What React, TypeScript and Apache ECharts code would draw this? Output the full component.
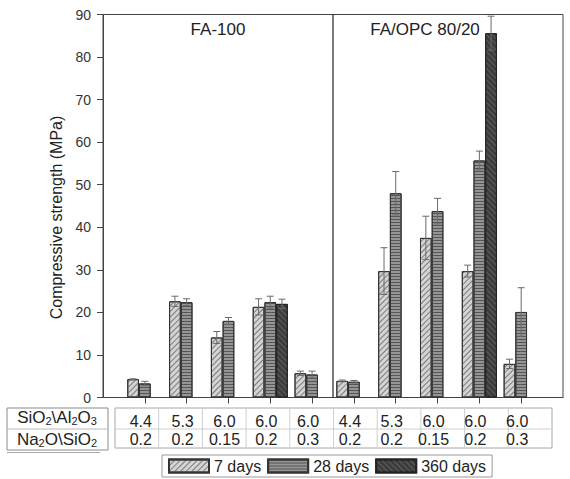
import React, { useEffect, useRef } from "react";
import * as echarts from "echarts";

const sio2Ratio = ["4.4", "5.3", "6.0", "6.0", "6.0", "4.4", "5.3", "6.0", "6.0", "6.0"];
const na2oRatio = ["0.2", "0.2", "0.15", "0.2", "0.3", "0.2", "0.2", "0.15", "0.2", "0.3"];
const groupTitles = ["FA-100", "FA/OPC 80/20"];
const seriesNames = ["7 days", "28 days", "360 days"];
const days7 = [4.3, 22.6, 14.1, 21.3, 5.7, 3.9, 29.7, 37.5, 29.7, 7.9];
const days7Err = [0.1, 1.2, 1.4, 1.9, 0.5, 0.2, 5.5, 5.1, 1.4, 1.1];
const days28 = [3.3, 22.4, 18.0, 22.4, 5.4, 3.7, 48.0, 43.8, 55.7, 20.1];
const days28Err = [0.5, 0.8, 0.8, 1.4, 0.8, 0.3, 5.1, 3.0, 2.2, 5.7];
const days360 = [null, null, null, 22.0, null, null, null, null, 85.6, null];
const days360Err = [null, null, null, 1.1, null, null, null, null, 4.0, null];
const yTicks = { min: 0, max: 90, interval: 10 };

const FONT = "'Liberation Sans', Arial, sans-serif";
const BAR_W = 11.7;

export default function App() {
  const ref = useRef<HTMLDivElement>(null);
  useEffect(() => {
    if (!ref.current) return;
    const chart = echarts.init(ref.current, null, { renderer: "svg" });
    const cats = ["", ...sio2Ratio.map((s, i) => `c${i}`), " "];
    const pad = (arr: (number | null)[]) => ["-", ...arr.map((v) => (v == null ? "-" : v)), "-"];
    const errData = (vals: (number | null)[], errs: (number | null)[]) =>
      vals
        .map((v, i) => (v == null ? null : [i + 1, v, errs[i] ?? 0]))
        .filter((d) => d !== null);
    const styles = [
      {
        color: "#d4d4d4",
        borderColor: "#333",
        borderWidth: 1,
        decal: {
          symbol: "rect",
          symbolSize: 1,
          dashArrayX: [1, 0],
          dashArrayY: [1, 3],
          rotation: -Math.PI / 4,
          color: "#7a7a7a",
        },
      },
      {
        color: "#959595",
        borderColor: "#333",
        borderWidth: 1,
        decal: {
          symbol: "rect",
          symbolSize: 1,
          dashArrayX: [1, 0],
          dashArrayY: [1, 2],
          rotation: 0,
          color: "#555",
        },
      },
      {
        color: "#3c3c3c",
        borderColor: "#222",
        borderWidth: 1,
        decal: {
          symbol: "rect",
          symbolSize: 1,
          dashArrayX: [1, 0],
          dashArrayY: [1, 3],
          rotation: Math.PI / 4,
          color: "#5e5e5e",
        },
      },
    ];
    const vals = [days7, days28, days360];
    const errs = [days7Err, days28Err, days360Err];
    const barSeries = vals.map((v, k) => ({
      type: "bar",
      name: seriesNames[k],
      data: pad(v),
      barWidth: BAR_W,
      barGap: "0%",
      itemStyle: styles[k],
      z: 2,
    }));
    const errSeries = vals.map((v, k) => ({
      type: "custom",
      name: seriesNames[k] + " err",
      data: errData(v, errs[k]),
      z: 5,
      silent: true,
      renderItem: (params: any, api: any) => {
        const idx = api.value(0);
        const val = api.value(1);
        const e = api.value(2);
        const x = api.coord([idx, val])[0] + (k - 1) * BAR_W;
        const yt = api.coord([idx, val + e])[1];
        const yb = api.coord([idx, val - e])[1];
        const st = { stroke: "#6a6a6a", lineWidth: 1 };
        return {
          type: "group",
          children: [
            { type: "line", shape: { x1: x, y1: yt, x2: x, y2: yb }, style: st },
            { type: "line", shape: { x1: x - 3.5, y1: yt, x2: x + 3.5, y2: yt }, style: st },
            { type: "line", shape: { x1: x - 3.5, y1: yb, x2: x + 3.5, y2: yb }, style: st },
          ],
        };
      },
    }));

    const tableLeft = 115;
    const tableRight = 552;
    const colW = (tableRight - tableLeft) / 10;
    const tableLines: any[] = [];
    for (let k = 1; k < 10; k++) {
      const x = tableLeft + k * colW;
      tableLines.push({
        type: "line",
        shape: { x1: x, y1: 408, x2: x, y2: 448 },
        style: { stroke: "#cfcfcf", lineWidth: 1 },
      });
    }

    chart.setOption({
      animation: false,
      grid: {
        left: 103,
        right: -4,
        top: 14.5,
        bottom: 81.5,
        show: true,
        borderColor: "#444",
        borderWidth: 1,
      },
      legend: {
        data: seriesNames,
        left: 162,
        top: 455,
        icon: "rect",
        itemWidth: 40,
        itemHeight: 13,
        itemGap: 6,
        padding: [3, 6, 3, 6],
        borderColor: "#999",
        borderWidth: 1,
        textStyle: { fontFamily: FONT, fontSize: 16, color: "#222" },
      },
      xAxis: {
        type: "category",
        data: cats,
        boundaryGap: false,
        axisLine: { lineStyle: { color: "#444", width: 1 } },
        axisTick: {
          show: true,
          length: 6,
          interval: (index: number) => index >= 1 && index <= 10,
          lineStyle: { color: "#444" },
        },
        axisLabel: {
          interval: 0,
          margin: 15,
          fontFamily: FONT,
          fontSize: 16,
          lineHeight: 18,
          color: "#222",
          padding: [0, 8, 0, 0],
          formatter: (value: string, index: number) =>
            index >= 1 && index <= 10 ? `${sio2Ratio[index - 1]}\n${na2oRatio[index - 1]}` : "",
        },
        splitLine: { show: false },
      },
      yAxis: {
        type: "value",
        min: yTicks.min,
        max: yTicks.max,
        interval: yTicks.interval,
        name: "Compressive strength (MPa)",
        nameLocation: "middle",
        nameGap: 37,
        nameTextStyle: { fontFamily: FONT, fontSize: 16, color: "#222", padding: [0, 23, 0, 0] },
        axisLine: { show: true, lineStyle: { color: "#444" } },
        axisTick: { show: true, length: 6, lineStyle: { color: "#444" } },
        axisLabel: { fontFamily: FONT, fontSize: 14, color: "#333", margin: 12 },
        splitLine: { show: false },
      },
      series: [...barSeries, ...errSeries],
      graphic: [
        {
          type: "line",
          shape: { x1: 333, y1: 14.5, x2: 333, y2: 397.5 },
          style: { stroke: "#222", lineWidth: 1.2 },
          z: 10,
        },
        {
          type: "text",
          x: 218,
          y: 29,
          style: {
            text: groupTitles[0],
            fontFamily: FONT,
            fontSize: 17,
            fill: "#222",
            align: "center",
            verticalAlign: "middle",
          },
        },
        {
          type: "text",
          x: 425,
          y: 29,
          style: {
            text: groupTitles[1],
            fontFamily: FONT,
            fontSize: 17,
            fill: "#222",
            align: "center",
            verticalAlign: "middle",
          },
        },
        {
          type: "rect",
          shape: { x: 7, y: 408, width: 101, height: 42 },
          style: { fill: "none", stroke: "#8a8a8a", lineWidth: 1 },
        },
        {
          type: "line",
          shape: { x1: 7, y1: 429, x2: 108, y2: 429 },
          style: { stroke: "#bbb", lineWidth: 1 },
        },
        {
          type: "line",
          shape: { x1: 7, y1: 452.5, x2: 100, y2: 452.5 },
          style: { stroke: "#aaa", lineWidth: 1 },
        },
        {
          type: "rect",
          shape: { x: tableLeft, y: 408, width: tableRight - tableLeft, height: 40 },
          style: { fill: "none", stroke: "#a8a8a8", lineWidth: 1 },
        },
        {
          type: "line",
          shape: { x1: tableLeft, y1: 429, x2: tableRight, y2: 429 },
          style: { stroke: "#cfcfcf", lineWidth: 1 },
        },
        ...tableLines,
        {
          type: "text",
          x: 57,
          y: 417,
          style: {
            text: "SiO{s|2}\\Al{s|2}O{s|3}",
            fontFamily: FONT,
            fontSize: 17,
            fill: "#222",
            align: "center",
            verticalAlign: "middle",
            rich: { s: { fontSize: 11, fontFamily: FONT, fill: "#222", padding: [7, 0, 0, 0] } },
          },
        },
        {
          type: "text",
          x: 57,
          y: 439,
          style: {
            text: "Na{s|2}O\\SiO{s|2}",
            fontFamily: FONT,
            fontSize: 17,
            fill: "#222",
            align: "center",
            verticalAlign: "middle",
            rich: { s: { fontSize: 11, fontFamily: FONT, fill: "#222", padding: [7, 0, 0, 0] } },
          },
        },
      ],
    });
    return () => chart.dispose();
  }, []);
  return (
    <div
      ref={ref}
      style={{ position: "fixed", left: 0, top: 0, width: 570, height: 479, background: "#fff" }}
    />
  );
}
